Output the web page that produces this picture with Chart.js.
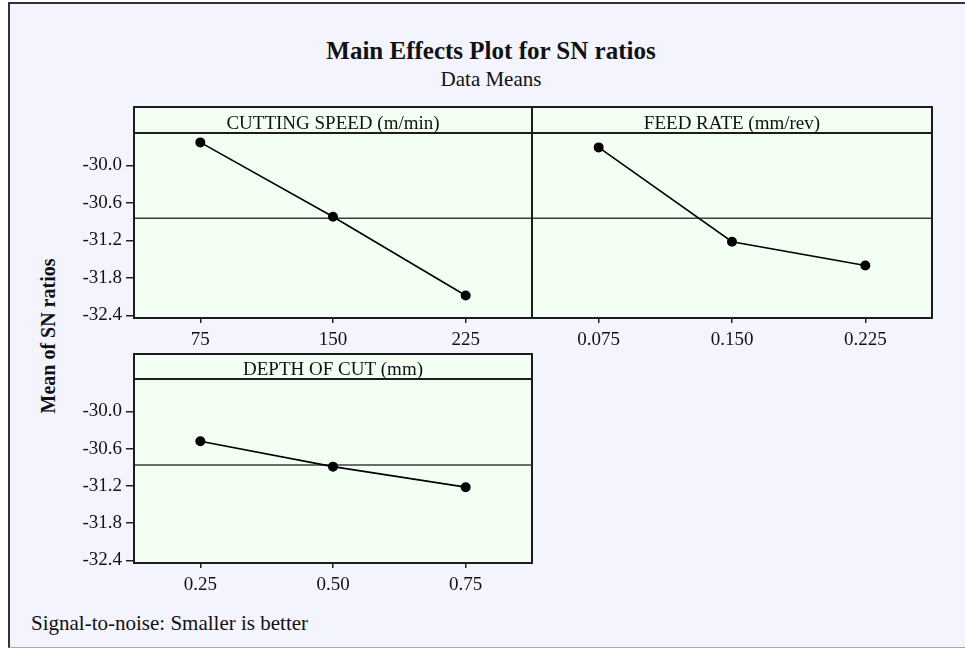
<!DOCTYPE html>
<html>
<head>
<meta charset="utf-8">
<script src="https://cdn.jsdelivr.net/npm/chart.js@4.4.1/dist/chart.umd.min.js"></script>
<style>
  html, body { margin: 0; padding: 0; background: #fff; }
  body { width: 965px; height: 648px; position: relative; overflow: hidden;
         font-family: "Liberation Serif", "Times New Roman", serif; color: #111; }
  #frame { position: absolute; left: 8px; top: 2px; width: 1000px; height: 646px; box-sizing: border-box;
           background: #f4f4fe; border-left: 2px solid #333; border-top: 2px solid #333; border-bottom: 1px solid #a8a8a8; }
  .txt { position: absolute; white-space: nowrap; line-height: 1; }
  canvas { position: absolute; }
</style>
</head>
<body>
<div id="frame"></div>
<div class="txt" style="left:491px; top:38px; font-size:25px; font-weight:bold; transform:translateX(-50%);">Main Effects Plot for SN ratios</div>
<div class="txt" style="left:491px; top:69px; font-size:21px; transform:translateX(-50%);">Data Means</div>
<div class="txt" style="left:48px; top:336px; font-size:20px; font-weight:bold; transform:translate(-50%,-50%) rotate(-90deg);">Mean of SN ratios</div>
<div class="txt" style="left:31px; top:613px; font-size:21px;">Signal-to-noise: Smaller is better</div>

<canvas id="speed"></canvas>
<canvas id="feed"></canvas>
<canvas id="depth"></canvas>

<script>
// factor levels (tick labels) and mean SN ratio at each level
const speedLevels = ["75", "150", "225"];
const speedSN = [-29.63, -30.82, -32.08];

const feedLevels = ["0.075", "0.150", "0.225"];
const feedSN = [-29.71, -31.22, -31.60];

const depthLevels = ["0.25", "0.50", "0.75"];
const depthSN = [-30.48, -30.89, -31.22];

const yTicks = [-30.0, -30.6, -31.2, -31.8, -32.4];
const yMin = -32.44;
const yMax = -29.48;

const PL = 70, PT = 4, PR = 6, PB = 44;

function panelPlugin(header, headH, mean) {
    return {
        id: "panel",
        beforeDraw(chart) {
            const a = chart.chartArea, ctx = chart.ctx;
            ctx.save();
            ctx.fillStyle = "#f3fff3";
            ctx.fillRect(a.left, a.top - headH, a.right - a.left, a.bottom - a.top + headH);
            ctx.restore();
        },
        beforeDatasetsDraw(chart) {
            // grand mean reference line
            const a = chart.chartArea, ctx = chart.ctx;
            const y = chart.scales.y.getPixelForValue(mean);
            ctx.save();
            ctx.strokeStyle = "#3c3c3c";
            ctx.lineWidth = 1.5;
            ctx.beginPath();
            ctx.moveTo(a.left, y);
            ctx.lineTo(a.right, y);
            ctx.stroke();
            ctx.restore();
        },
        afterDraw(chart) {
            const a = chart.chartArea, ctx = chart.ctx;
            ctx.save();
            ctx.strokeStyle = "#1c1c1c";
            ctx.lineWidth = 2;
            ctx.strokeRect(a.left, a.top - headH, a.right - a.left, a.bottom - a.top + headH);
            ctx.beginPath();
            ctx.moveTo(a.left, a.top);
            ctx.lineTo(a.right, a.top);
            ctx.stroke();
            ctx.fillStyle = "#111";
            ctx.font = "19px 'Liberation Serif'";
            ctx.textAlign = "center";
            ctx.textBaseline = "alphabetic";
            ctx.fillText(header, (a.left + a.right) / 2, a.top - 4);
            ctx.restore();
        }
    };
}

function makePanel(id, box, levels, values, header, showY) {
    const cv = document.getElementById(id);
    const W = box.w + PL + PR, H = box.h + PT + PB;
    cv.width = W;
    cv.height = H;
    cv.style.width = W + "px";
    cv.style.height = H + "px";
    cv.style.left = (box.x - PL) + "px";
    cv.style.top = (box.y - PT) + "px";

    const mean = values.reduce((s, v) => s + v, 0) / values.length;

    new Chart(cv.getContext("2d"), {
        type: "line",
        data: {
            labels: levels,
            datasets: [{
                data: values,
                borderColor: "#000",
                borderWidth: 1.6,
                pointRadius: 4.2,
                pointBackgroundColor: "#000",
                pointBorderColor: "#000",
                tension: 0
            }]
        },
        options: {
            responsive: false,
            animation: false,
            devicePixelRatio: 1,
            layout: { padding: { top: PT + box.head, right: PR, left: 0, bottom: 0 } },
            plugins: { legend: { display: false }, tooltip: { enabled: false } },
            scales: {
                x: {
                    type: "category",
                    offset: true,
                    grid: { offset: false, drawOnChartArea: false, drawTicks: true, tickLength: 5, color: "#222", lineWidth: 1.5 },
                    border: { display: false },
                    ticks: { font: { family: "Liberation Serif", size: 19 }, color: "#111", padding: 6, maxRotation: 0, autoSkip: false },
                    afterFit: s => { s.height = PB; }
                },
                y: {
                    min: yMin,
                    max: yMax,
                    afterBuildTicks: s => { s.ticks = yTicks.map(v => ({ value: v })); },
                    grid: { display: showY, drawOnChartArea: false, drawTicks: true, tickLength: 8, color: "#222", lineWidth: 1.5 },
                    border: { display: false },
                    ticks: {
                        display: showY,
                        font: { family: "Liberation Serif", size: 19 },
                        color: "#111",
                        padding: 4,
                        callback: v => Number(v).toFixed(1)
                    },
                    afterFit: s => { s.width = PL; }
                }
            }
        },
        plugins: [panelPlugin(header, box.head, mean)]
    });
}

makePanel("speed", { x: 134, y: 107, w: 398, h: 211, head: 26 }, speedLevels, speedSN, "CUTTING SPEED (m/min)", true);
makePanel("feed", { x: 532, y: 107, w: 400, h: 211, head: 26 }, feedLevels, feedSN, "FEED RATE (mm/rev)", false);
makePanel("depth", { x: 134, y: 354, w: 398, h: 209, head: 25 }, depthLevels, depthSN, "DEPTH OF CUT (mm)", true);
</script>
</body>
</html>
